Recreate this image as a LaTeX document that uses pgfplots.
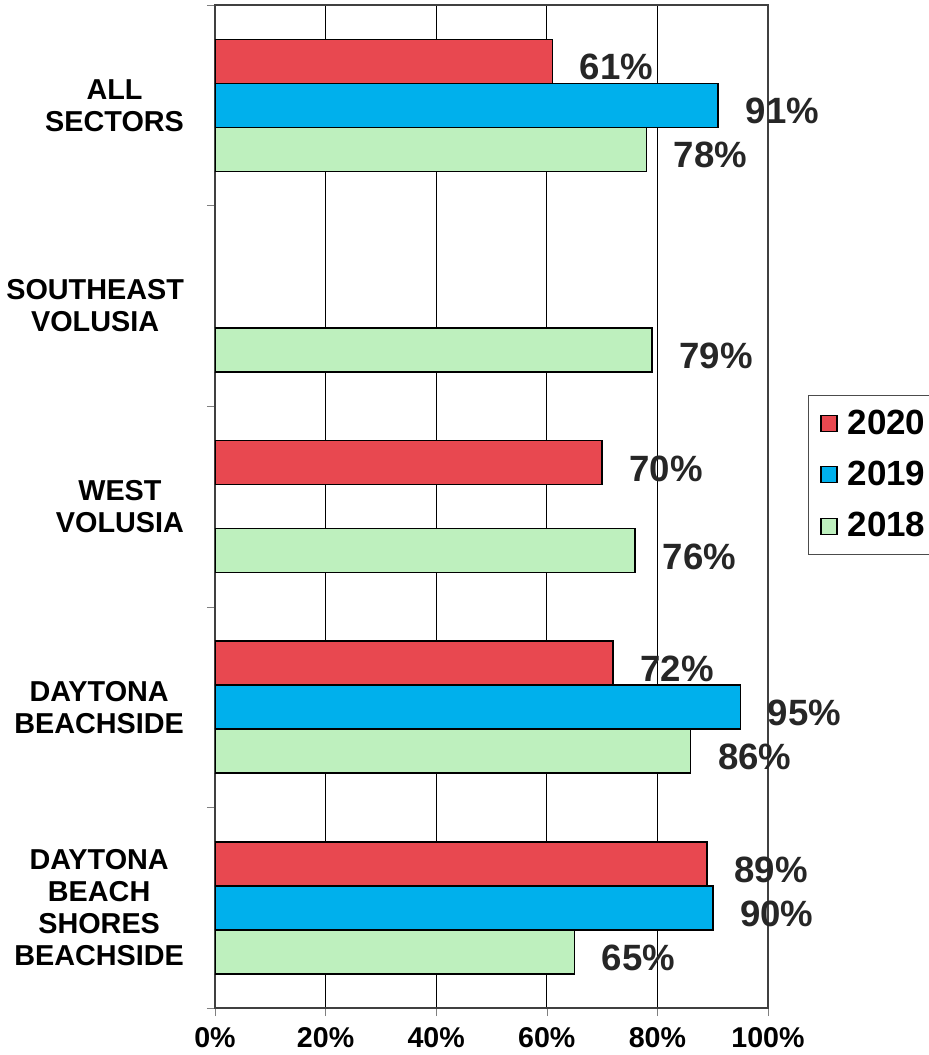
\documentclass[border=0pt]{standalone}
\usepackage{pgfplots}
\pgfplotsset{compat=1.18}
\usepackage{fontspec}
\setmainfont{Liberation Sans}
\definecolor{cred}{RGB}{232,72,80}
\definecolor{cblue}{RGB}{0,176,236}
\definecolor{cgreen}{RGB}{190,240,190}
\begin{document}
\begin{tikzpicture}
\path[use as bounding box] (-107.5pt,-23.5pt) rectangle (356.5pt,504pt);
\begin{axis}[
  at={(0,0)}, anchor=south west,
  scale only axis, width=276.5pt, height=501.5pt,
  xbar=0pt, bar width=22pt,
  xmin=0, xmax=100, ymin=-0.5, ymax=4.5, y dir=reverse,
  xtick={0,20,...,100},
  xticklabel={\pgfmathprintnumber{\tick}\%},
  xticklabel style={font=\fontsize{14.3}{14.3}\selectfont\bfseries, yshift=-2pt},
  ytick={0,1,2,3,4},
  yticklabels={ALL\\SECTORS, SOUTHEAST\\VOLUSIA, WEST\\VOLUSIA, DAYTONA\\BEACHSIDE, DAYTONA\\BEACH\\SHORES\\BEACHSIDE},
  yticklabel style={align=center, font=\fontsize{14.4}{16}\selectfont\bfseries, xshift=-8pt},
  minor ytick={-0.5,0.5,1.5,2.5,3.5,4.5},
  major y tick style={draw=none},
  tick align=outside,
  major tick length=4pt, minor tick length=4pt,
  xtick pos=bottom, ytick pos=left,
  xmajorgrids, grid style={black, line width=0.5pt},
  axis line style={black!75, line width=0.6pt},
  /pgf/number format/assume math mode=true,
  nodes near coords={\pgfmathprintnumber{\pgfplotspointmeta}\%},
  nodes near coords style={font=\fontsize{18.3}{18.3}\selectfont\bfseries, text=black!85, anchor=west, xshift=10pt, yshift=-3pt},
  legend style={at={(axis description cs:1.0723,0.611)}, anchor=north west, draw=black!70,
     font=\fontsize{17.5}{17.5}\selectfont\bfseries, row sep=8pt, inner xsep=6pt, inner ysep=5pt,
     /tikz/every odd column/.append style={column sep=3pt}},
  legend cell align=left,
  legend image code/.code={\draw[#1, draw=black, line width=0.6pt] (0pt,-4pt) rectangle (8pt,4pt);},
]
\addplot[fill=cred, draw=black, line width=0.8pt, bar shift=22pt] coordinates {(61,0) (70,2) (72,3) (89,4)};
\addplot[fill=cblue, draw=black, line width=0.8pt, bar shift=0pt] coordinates {(91,0) (95,3) (90,4)};
\addplot[fill=cgreen, draw=black, line width=0.8pt, bar shift=-22pt] coordinates {(78,0) (79,1) (76,2) (86,3) (65,4)};
\legend{\makebox[56pt][l]{2020},\makebox[56pt][l]{2019},\makebox[56pt][l]{2018}}
\end{axis}
\end{tikzpicture}
\end{document}
